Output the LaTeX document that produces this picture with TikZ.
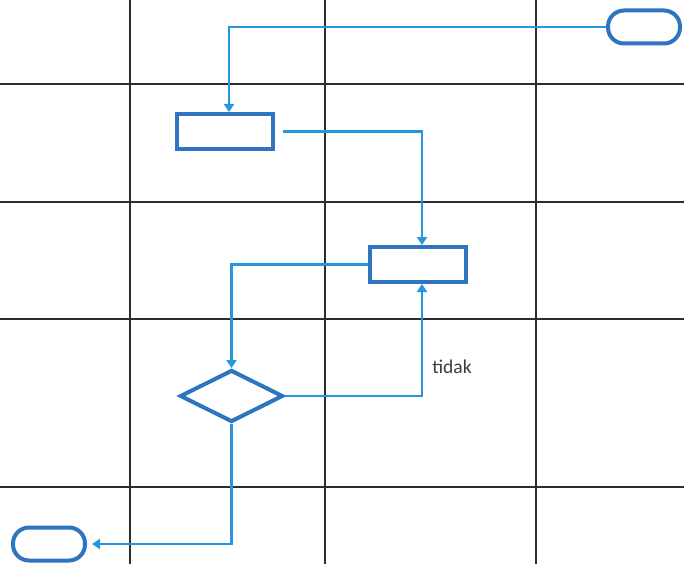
\documentclass[tikz,border=0pt]{standalone}
\usepackage{fontspec}
\setmainfont{Carlito}
\usetikzlibrary{arrows.meta,shapes.geometric}
\definecolor{gridline}{RGB}{45,45,45}
\definecolor{shapeblue}{RGB}{46,116,190}
\definecolor{flowblue}{RGB}{38,150,222}
\definecolor{labelgray}{RGB}{60,60,60}
\tikzset{
  gridrule/.style={draw=gridline, line width=2pt},
  shapeline/.style={draw=shapeblue, line width=4pt, fill=white, inner sep=0pt},
  terminal/.style={shapeline, rectangle, rounded corners=16pt, minimum width=72pt, minimum height=33pt},
  process/.style={shapeline, rectangle, minimum width=96pt, minimum height=35pt},
  decision/.style={shapeline, diamond, minimum width=103pt, minimum height=52pt},
  flow/.style={draw=flowblue, line width=2.3pt, -{Triangle[width=10pt,length=8pt]}},
  flowlabel/.style={text=labelgray, font=\fontsize{19.5}{22}\selectfont}
}
\begin{document}
\begin{tikzpicture}[x=1pt, y=-1pt]
  \useasboundingbox (0,0) rectangle (684,564);
  \fill[white] (0,0) rectangle (684,564);

  % swimlane grid
  \foreach \gx in {130,325,536} \draw[gridrule] (\gx,0) -- (\gx,564);
  \foreach \gy in {84,202,319,487} \draw[gridrule] (0,\gy) -- (684,\gy);

  % flowchart shapes
  \node[terminal] (start) at (644,27) {};
  \node[process]  (task1) at (225,131.5) {};
  \node[process]  (task2) at (417.5,264.5) {};
  \node[decision] (check) at (231.5,396) {};
  \node[terminal] (finish) at (49,544) {};

  % connectors
  \coordinate (t1in)  at ([xshift=4pt]task1.north);
  \coordinate (t1out) at ([xshift=8pt]task1.east);
  \coordinate (t2in)  at ([xshift=4.5pt]task2.north);
  \coordinate (t2back) at ([xshift=4.5pt]task2.south);

  \draw[flow] (start.west) -| (t1in);
  \draw[flow] (t1out) -| (t2in);
  \draw[flow] (task2.west) -| (check.north);
  \draw[flow] (check.east) -| (t2back);
  \draw[flow, shorten >=5pt] (check.south) |- (finish.east);

  \node[flowlabel] (no) at (452,367) {tidak};
\end{tikzpicture}
\end{document}
